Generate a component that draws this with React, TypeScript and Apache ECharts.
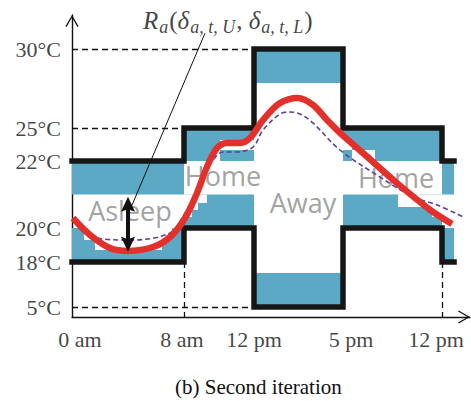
import React, { useEffect, useRef } from 'react';
import * as echarts from 'echarts';

// ---------------- data ----------------
const hourTicks = [0, 8, 12, 17, 24];
const hourTickLabels = ['0 am', '8 am', '12 pm', '5 pm', '12 pm'];
const tempTicks = [5, 18, 20, 22, 25, 30];
const tempTickLabels = ['5°C', '18°C', '20°C', '22°C', '25°C', '30°C'];

// comfort bounds (step functions)
const boundHours = [0, 8, 12, 17, 24, 24.85];
const upperBound = [22, 25, 30, 25, 22, 22];
const lowerBound = [18, 20, 5, 20, 18, 18];

// penalty bands: [startHour, endHour, lowTemp, highTemp]
const penaltyBands = [
  [0, 8, 21, 22], [0, 8, 18, 20],
  [8, 12, 22, 25], [8, 12, 20, 21],
  [12, 17, 27.85, 30], [12, 17, 5, 14.8],
  [17, 24, 22, 25], [17, 24, 20, 21],
  [24, 24.85, 21, 22], [24, 24.85, 18, 20],
];
// cut-outs of the bands around the trajectory: [startHour, endHour, lowTemp, highTemp]
const bandGaps = [
  [0.86, 7.14, 19.29, 20], [1.64, 6.43, 18.71, 19.29],
  [10.06, 12, 23.0, 23.91], [9.66, 10.06, 22, 23.0],
  [8, 9.31, 20.75, 21], [8, 8.8, 20.54, 20.75], [8, 8.46, 20.33, 20.54],
  [17, 17.64, 23.0, 23.91], [17.64, 19.26, 22, 23.0],
  [20.89, 24, 20.63, 21], [23.29, 24, 20.33, 20.63],
];

// indoor temperature trajectory (red)
const actualHours = [0.07, 1.29, 2.71, 4.0, 5.79, 7.0, 8.06, 8.74, 9.31, 9.89, 10.46, 11.2, 11.77, 12.51, 13.46, 14.47, 15.31, 16.1, 16.83, 18.41, 20.82, 23.16, 24.71];
const actualTemps = [20.3, 19.59, 18.82, 18.65, 18.88, 19.47, 20.3, 21.04, 21.82, 23.18, 23.64, 23.64, 24.09, 25.51, 26.58, 26.9, 26.46, 25.51, 24.55, 22.73, 21.34, 20.54, 20.12];

// previous iteration (purple dashed)
const previousHours = [0, 1.43, 4.14, 7.0, 8.06, 8.91, 9.66, 10.23, 11.03, 11.94, 12.51, 13.46, 14.02, 14.58, 15.31, 16.83, 19.62, 21.95, 23.65, 25.49];
const previousTemps = [20.24, 19.47, 19.29, 19.71, 20.45, 21.28, 22.09, 22.82, 22.82, 23.27, 24.82, 25.89, 26.01, 25.89, 25.32, 23.0, 21.52, 20.93, 20.69, 20.33];

// dashed guides: from [hour, temp] to [hour, temp] (null temp = time axis)
const guideFrom = [[0, 30], [0, 25], [0, 5], [8, 18], [24, 18]];
const guideTo = [[12, 30], [8, 25], [12, 5], [8, null], [24, null]];

const zoneLabels = ['Asleep', 'Home', 'Away', 'Home'];
const zoneLabelAt = [[4.14, 20.51], [10.23, 21.58], [14.75, 20.76], [20.75, 21.51]];

const rangeHour = 4;
const rangeTemps = [18.6, 20.93];
const formulaAt = [10.5, 31.8];
const pointerFrom = [9.2, 31.0];
const pointerTo = [4.2, 20.6];

const caption = '(b) Second iteration';

// ---------------- layout (schematic, non-linear scale anchors) ----------------
const X_ANCHORS = [0, 112, 182, 271, 370];
const Y_ANCHORS = [10, 55, 89, 156, 189, 268];
const X_MAX = 398;
const Y_MAX = 302;
const X_LABEL_NUDGE = [8, -2, 0, 8, -6];

function piecewise(v: number, from: number[], to: number[]) {
  const n = from.length;
  let i = 0;
  if (v <= from[0]) i = 0;
  else if (v >= from[n - 1]) i = n - 2;
  else while (v > from[i + 1]) i++;
  const t = (v - from[i]) / (from[i + 1] - from[i]);
  return to[i] + t * (to[i + 1] - to[i]);
}
const hx = (h: number) => piecewise(h, hourTicks, X_ANCHORS);
const ty = (t: number | null) => (t === null ? 0 : piecewise(t, tempTicks, Y_ANCHORS));
const pt = (h: number, t: number | null) => [hx(h), ty(t)];

const SERIF = 'Liberation Serif';
const BLUE = '#5ba9c4';
const INK = '#111';
const ARROW = 'path://M0,0 L7,12 L5.8,12.8 L0,2.6 L-5.8,12.8 L-7,12 Z';

const rectItem = (color: string) => (params: any, api: any) => {
  const p0 = api.coord([api.value(0), api.value(1)]);
  const p1 = api.coord([api.value(2), api.value(3)]);
  return {
    type: 'rect',
    shape: {
      x: Math.min(p0[0], p1[0]),
      y: Math.min(p0[1], p1[1]),
      width: Math.abs(p1[0] - p0[0]),
      height: Math.abs(p1[1] - p0[1]),
    },
    style: { fill: color },
  };
};

const doubleArrowItem = (params: any, api: any) => {
  const a = api.coord([api.value(0), api.value(1)]);
  const b = api.coord([api.value(0), api.value(2)]);
  const x = a[0];
  const yb = Math.max(a[1], b[1]);
  const yt = Math.min(a[1], b[1]);
  const hl = 15;
  const hw = 7;
  return {
    type: 'group',
    children: [
      { type: 'line', shape: { x1: x, y1: yt + hl - 3, x2: x, y2: yb - hl + 3 }, style: { stroke: INK, lineWidth: 4 } },
      { type: 'polygon', shape: { points: [[x, yt], [x + hw, yt + hl], [x, yt + hl - 2.5], [x - hw, yt + hl]] }, style: { fill: INK } },
      { type: 'polygon', shape: { points: [[x, yb], [x + hw, yb - hl], [x, yb - hl + 2.5], [x - hw, yb - hl]] }, style: { fill: INK } },
    ],
  };
};

const toRect = (r: number[]) => [hx(r[0]), ty(r[2]), hx(r[1]), ty(r[3])];

function buildOption() {
  const axisCommon = {
    type: 'value',
    axisLine: {
      show: true,
      onZero: false,
      lineStyle: { color: INK, width: 1.4 },
      symbol: ['none', ARROW],
      symbolSize: [14, 12],
      symbolOffset: [0, -6],
    },
    axisTick: { show: false },
    axisLabel: { show: false },
    splitLine: { show: false },
  };
  const hidden = { color: 'rgba(0,0,0,0)' };

  return {
    animation: false,
    textStyle: { fontFamily: SERIF },
    title: {
      text: caption,
      left: 175,
      top: 376,
      padding: 0,
      textStyle: { fontFamily: SERIF, fontSize: 21, fontWeight: 'normal', color: INK },
    },
    grid: { left: 72, right: 1, top: 15, bottom: 84 },
    xAxis: { ...axisCommon, min: 0, max: X_MAX },
    yAxis: { ...axisCommon, min: 0, max: Y_MAX },
    series: [
      {
        type: 'custom',
        silent: true,
        z: 1,
        renderItem: rectItem(BLUE),
        data: penaltyBands.map(toRect),
      },
      {
        type: 'custom',
        silent: true,
        z: 2,
        renderItem: rectItem('#ffffff'),
        data: bandGaps.map(toRect),
      },
      {
        type: 'lines',
        coordinateSystem: 'cartesian2d',
        silent: true,
        z: 3,
        symbol: 'none',
        lineStyle: { color: INK, width: 1.3, type: [6, 4], opacity: 1 },
        data: guideFrom.map((f, i) => ({
          coords: [pt(f[0] as number, f[1]), pt(guideTo[i][0] as number, guideTo[i][1])],
        })),
      },
      {
        type: 'scatter',
        silent: true,
        z: 3,
        symbolSize: 0,
        itemStyle: hidden,
        label: {
          show: true,
          position: 'inside',
          fontFamily: 'Open Sans',
          fontSize: 27,
          color: '#8a8a8a',
        },
        data: zoneLabels.map((s, i) => ({
          value: pt(zoneLabelAt[i][0], zoneLabelAt[i][1]),
          label: { formatter: s },
        })),
      },
      {
        type: 'line',
        silent: true,
        z: 4,
        step: 'end',
        symbol: 'none',
        lineStyle: { color: '#161616', width: 5.5, join: 'miter', cap: 'square' },
        data: boundHours.map((h, i) => pt(h, upperBound[i])),
      },
      {
        type: 'line',
        silent: true,
        z: 4,
        step: 'end',
        symbol: 'none',
        lineStyle: { color: '#161616', width: 5.5, join: 'miter', cap: 'square' },
        data: boundHours.map((h, i) => pt(h, lowerBound[i])),
      },
      {
        type: 'line',
        silent: true,
        z: 5,
        smooth: 0.35,
        symbol: 'none',
        lineStyle: { color: '#5c3f9f', width: 1.6, type: [5, 3] },
        data: previousHours.map((h, i) => pt(h, previousTemps[i])),
      },
      {
        type: 'line',
        silent: true,
        z: 6,
        smooth: 0.35,
        symbol: 'none',
        lineStyle: { color: '#e3302b', width: 6.5, cap: 'butt' },
        data: actualHours.map((h, i) => pt(h, actualTemps[i])),
      },
      {
        type: 'custom',
        silent: true,
        z: 7,
        renderItem: doubleArrowItem,
        data: [[hx(rangeHour), ty(rangeTemps[0]), ty(rangeTemps[1])]],
      },
      {
        type: 'lines',
        coordinateSystem: 'cartesian2d',
        silent: true,
        z: 7,
        symbol: 'none',
        lineStyle: { color: INK, width: 1, opacity: 1 },
        data: [{ coords: [pt(pointerFrom[0], pointerFrom[1]), pt(pointerTo[0], pointerTo[1])] }],
      },
      {
        type: 'scatter',
        silent: true,
        z: 8,
        symbolSize: 0,
        itemStyle: hidden,
        label: {
          show: true,
          position: 'inside',
          formatter: '{i|R}{s|a}{n|(}{i|δ}{s|a, t, U}{n|, }{i|δ}{s|a, t, L}{n|)}',
          rich: {
            i: { fontFamily: SERIF, fontStyle: 'italic', fontSize: 25, color: INK },
            n: { fontFamily: SERIF, fontSize: 25, color: INK },
            s: { fontFamily: SERIF, fontStyle: 'italic', fontSize: 18, color: INK, padding: [12, 1, 0, 1] },
          },
        },
        data: [{ value: pt(formulaAt[0], formulaAt[1]) }],
      },
      {
        type: 'scatter',
        silent: true,
        z: 8,
        symbolSize: 0,
        itemStyle: hidden,
        label: {
          show: true,
          position: 'left',
          distance: 11,
          fontFamily: SERIF,
          fontSize: 22,
          color: INK,
        },
        data: tempTicks.map((t, i) => ({ value: [0, ty(t)], label: { formatter: tempTickLabels[i] } })),
      },
      {
        type: 'scatter',
        silent: true,
        z: 8,
        symbolSize: 0,
        itemStyle: hidden,
        label: {
          show: true,
          position: 'bottom',
          distance: 11,
          fontFamily: SERIF,
          fontSize: 22,
          color: INK,
        },
        data: hourTicks.map((h, i) => ({
          value: [hx(h), 0],
          label: { formatter: hourTickLabels[i], offset: [X_LABEL_NUDGE[i], 0] },
        })),
      },
    ],
  };
}

export default function App() {
  const ref = useRef<HTMLDivElement>(null);
  useEffect(() => {
    const chart = echarts.init(ref.current!, null, { renderer: 'svg' });
    chart.setOption(buildOption() as any);
    return () => chart.dispose();
  }, []);
  return (
    <div
      ref={ref}
      style={{ position: 'fixed', left: 0, top: 0, width: 471, height: 401, background: '#fff' }}
    />
  );
}
